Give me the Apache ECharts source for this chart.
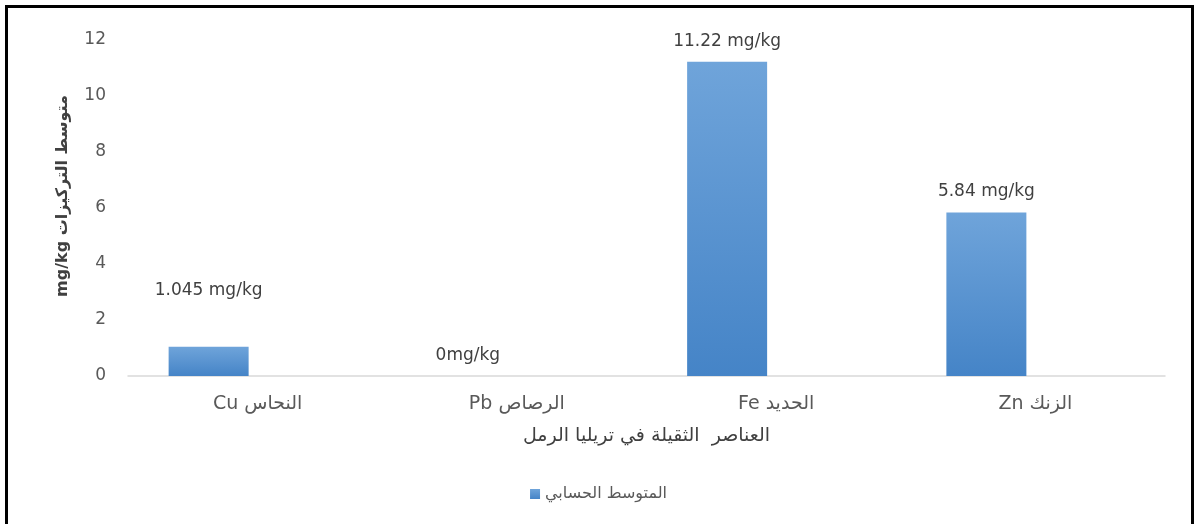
<!DOCTYPE html>
<html>
<head>
<meta charset="utf-8">
<script src="https://cdn.jsdelivr.net/npm/echarts@6/dist/echarts.min.js"></script>
<style>
  html, body { margin: 0; padding: 0; background: #fff; }
  #chart { width: 1197px; height: 524px; }
</style>
</head>
<body>
<div id="chart"></div>
<script>
// 数据
const categories = ["Cu النحاس", "Pb الرصاص", "Fe الحديد", "Zn الزنك"];
const meanValues = [1.045, 0, 11.22, 5.84];
const valueLabels = ["1.045 mg/kg", "0mg/kg", "11.22 mg/kg", "5.84 mg/kg"];
const seriesName = "المتوسط الحسابي";
const xAxisTitle = "العناصر  الثقيلة في تريليا الرمل";
const yAxisTitle = "mg/kg متوسط التركيزات";

const font = "'DejaVu Sans', sans-serif";

const chart = echarts.init(document.getElementById("chart"));

const barColor = new echarts.graphic.LinearGradient(0, 0, 0, 1, [
  { offset: 0, color: "#6fa4da" },
  { offset: 1, color: "#4584c7" },
]);

let options = {
  animation: false,
  textStyle: { fontFamily: font },
  graphic: [
    {
      type: "rect",
      shape: { x: 6.5, y: 6.5, width: 1186, height: 560 },
      style: { fill: "none", stroke: "#000", lineWidth: 3 },
    },
  ],
  legend: {
    data: [seriesName],
    left: "center",
    top: 481,
    icon: "rect",
    itemWidth: 10,
    itemHeight: 10,
    itemGap: 6,
    textStyle: { color: "#595959", fontSize: 16, fontFamily: font },
  },
  grid: {
    left: 128,
    right: 32,
    top: 40,
    bottom: 148,
  },
  xAxis: {
    type: "category",
    data: categories,
    name: xAxisTitle,
    nameLocation: "middle",
    nameGap: 51,
    nameTextStyle: { color: "#404040", fontSize: 19, fontFamily: font },
    axisLine: { lineStyle: { color: "#d9d9d9", width: 1.5 } },
    axisTick: { show: false },
    axisLabel: { color: "#595959", fontSize: 19, margin: 19 },
  },
  yAxis: {
    type: "value",
    min: 0,
    max: 12,
    interval: 2,
    name: yAxisTitle,
    nameLocation: "middle",
    nameGap: 57,
    nameRotate: 90,
    nameTextStyle: {
      color: "#404040",
      fontSize: 16,
      fontWeight: "bold",
      fontFamily: font,
      padding: [0, 0, 0, 24],
    },
    axisLine: { show: false },
    axisTick: { show: false },
    splitLine: { show: false },
    axisLabel: { color: "#595959", fontSize: 17, margin: 22 },
  },
  series: [
    {
      name: seriesName,
      type: "bar",
      barWidth: 80,
      barGap: "22.5%",
      itemStyle: { color: barColor },
      label: {
        show: true,
        position: "top",
        distance: 12,
        color: "#404040",
        fontSize: 17,
        formatter: (p) => valueLabels[p.dataIndex],
      },
      data: meanValues.map((v, i) =>
        i === 0 ? { value: v, label: { offset: [0, -36] } } : v
      ),
    },
    {
      // 占位系列，让柱子偏左
      name: "placeholder",
      type: "bar",
      barWidth: 80,
      data: categories.map(() => null),
    },
  ],
};

chart.setOption(options);
</script>
</body>
</html>
